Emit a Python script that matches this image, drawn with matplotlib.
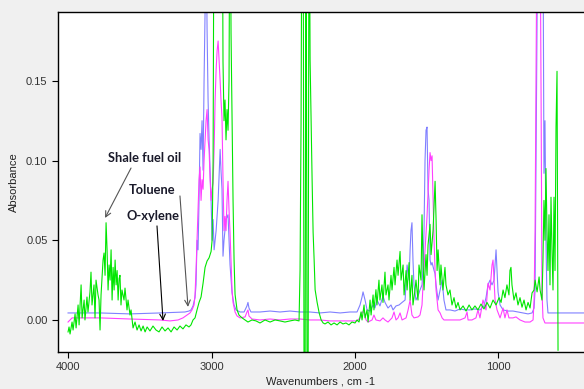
import matplotlib
matplotlib.use("Agg")
import matplotlib.pyplot as plt

# Shale fuel oil (green)
shale_wn = [4000, 3993, 3986, 3972, 3965, 3951, 3944, 3930, 3923, 3909, 3902, 3888, 3882, 3868,
            3861, 3847, 3840, 3833, 3819, 3812, 3805, 3791, 3784, 3777, 3770, 3756, 3749, 3742,
            3735, 3728, 3721, 3714, 3707, 3700, 3693, 3686, 3679, 3672, 3665, 3658, 3651, 3644,
            3638, 3631, 3624, 3610, 3603, 3589, 3582, 3568, 3561, 3547, 3533, 3519, 3505, 3491,
            3477, 3463, 3449, 3429, 3408, 3387, 3366, 3345, 3324, 3303, 3282, 3261, 3240, 3220,
            3199, 3178, 3157, 3143, 3129, 3115, 3101, 3087, 3073, 3059, 3045, 3031, 3017, 3003,
            2996, 2989, 2982, 2926, 2920, 2913, 2906, 2899, 2892, 2885, 2878, 2871, 2864, 2857,
            2850, 2843, 2836, 2822, 2808, 2787, 2766, 2746, 2718, 2690, 2662, 2627, 2592, 2557,
            2523, 2488, 2453, 2418, 2390, 2383, 2376, 2369, 2362, 2355, 2348, 2341, 2334, 2327,
            2320, 2313, 2306, 2299, 2292, 2285, 2278, 2264, 2250, 2236, 2222, 2209, 2188, 2167,
            2146, 2125, 2104, 2084, 2063, 2042, 2021, 2000, 1986, 1972, 1958, 1951, 1937, 1930,
            1916, 1909, 1895, 1888, 1874, 1868, 1854, 1847, 1833, 1826, 1812, 1805, 1791, 1784,
            1770, 1763, 1749, 1742, 1728, 1721, 1707, 1700, 1686, 1679, 1665, 1658, 1644, 1637,
            1623, 1616, 1603, 1596, 1582, 1575, 1561, 1554, 1540, 1533, 1526, 1519, 1505, 1498,
            1491, 1477, 1470, 1456, 1442, 1435, 1428, 1421, 1407, 1401, 1387, 1373, 1366, 1352,
            1338, 1324, 1310, 1296, 1282, 1268, 1247, 1226, 1205, 1185, 1164, 1143, 1122, 1101,
            1080, 1059, 1038, 1017, 996, 982, 968, 955, 941, 927, 920, 913, 906, 892, 878, 864,
            850, 836, 822, 808, 794, 780, 766, 752, 745, 731, 717, 710, 697, 690, 683, 676, 669,
            662, 655, 648, 641, 634, 627, 620, 613, 606, 599, 592, 585]
shale_abs = [-0.0075, -0.0044, -0.0088, -0.0013, -0.0063, 0.0038, -0.005, 0.0094, -0.0031, 0.022,
             0.0013, 0.0125, 0.0, 0.0144, 0.005, 0.0176, 0.030, 0.0094, 0.022, 0.0013, 0.025,
             0.0157, 0.0125, -0.0063, 0.0157, 0.0376, 0.042, 0.028, 0.061, 0.044, 0.0188, 0.0345,
             0.025, 0.044, 0.0125, 0.033, 0.0188, 0.0376, 0.022, 0.031, 0.0125, 0.026, 0.028,
             0.0094, 0.0188, 0.0125, 0.020, 0.0063, 0.0125, 0.0031, 0.0063, -0.005, -0.0013,
             -0.0063, -0.0031, -0.0069, -0.0038, -0.0075, -0.0044, -0.0069, -0.0038, -0.0063,
             -0.0075, -0.0044, -0.0069, -0.005, -0.0075, -0.0044, -0.0063, -0.0038, -0.0056,
             -0.0031, -0.0044, -0.0031, 0.0, 0.0013, 0.0063, 0.011, 0.0144, 0.023, 0.033, 0.037,
             0.039, 0.043, 0.050, 0.10, 0.30, 0.30, 0.162, 0.125, 0.138, 0.113, 0.132, 0.119,
             0.15, 0.30, 0.18, 0.125, 0.075, 0.038, 0.016, 0.0063, 0.003, 0.0013, 0.0, -0.0013,
             0.0, -0.0006, -0.0019, 0.0, -0.0013, 0.0, -0.0006, -0.0013, -0.0006, 0.0, -0.0006,
             0.031, 0.124, 0.30, 0.30, -0.05, -0.05, 0.30, -0.05, -0.05, 0.30, 0.163, 0.125,
             0.088, 0.055, 0.038, 0.019, 0.011, 0.0045, 0.0, -0.0019, -0.0025, -0.0013, -0.0031,
             -0.0019, -0.0031, -0.0013, -0.0025, -0.0019, -0.0031, -0.0013, -0.0019, 0.0,
             -0.0013, 0.005, 0.0, 0.0094, 0.0013, 0.0063, -0.0013, 0.0125, 0.0031, 0.0157,
             0.0063, 0.019, 0.0094, 0.025, 0.0125, 0.022, 0.011, 0.030, 0.0157, 0.022, 0.0125,
             0.028, 0.0188, 0.033, 0.022, 0.0376, 0.028, 0.043, 0.025, 0.0345, 0.0157, 0.031,
             0.0188, 0.036, 0.0125, 0.028, 0.0094, 0.0188, 0.025, 0.0125, 0.0345, 0.025, 0.066,
             0.0376, 0.0188, 0.041, 0.028, 0.047, 0.060, 0.041, 0.056, 0.087, 0.063, 0.031,
             0.044, 0.022, 0.0345, 0.0188, 0.033, 0.022, 0.0157, 0.0188, 0.0094, 0.014, 0.0075,
             0.011, 0.0063, 0.0088, 0.0056, 0.0094, 0.0063, 0.0088, 0.0063, 0.010, 0.0069,
             0.011, 0.0075, 0.0125, 0.0094, 0.014, 0.011, 0.0188, 0.014, 0.022, 0.0157, 0.031,
             0.033, 0.022, 0.0125, 0.017, 0.0094, 0.014, 0.008, 0.0125, 0.0063, 0.011, 0.0075,
             0.017, 0.0188, 0.025, 0.0176, 0.027, 0.0188, 0.0125, 0.0376, 0.075, 0.050, 0.095,
             0.056, 0.031, 0.066, 0.022, 0.077, 0.044, 0.0188, 0.077, 0.031, 0.121, 0.156, -0.019]

# Toluene (blue)
toluene_wn = [4000, 3777, 3568, 3359, 3185, 3157, 3143, 3129, 3115, 3108, 3101, 3094, 3087, 3080,
              3073, 3066, 3059, 3052, 3045, 3038, 3031, 3024, 3017, 3010, 3003, 2996, 2989, 2982,
              2968, 2954, 2940, 2934, 2927, 2920, 2913, 2899, 2885, 2878, 2871, 2857, 2843, 2829,
              2801, 2773, 2753, 2746, 2739, 2725, 2662, 2592, 2523, 2453, 2383, 2314, 2244, 2174,
              2104, 2035, 1986, 1965, 1951, 1944, 1930, 1916, 1895, 1874, 1861, 1847, 1826, 1805,
              1791, 1770, 1749, 1735, 1714, 1693, 1672, 1651, 1637, 1623, 1616, 1610, 1603, 1596,
              1589, 1575, 1561, 1547, 1533, 1526, 1519, 1512, 1505, 1498, 1491, 1484, 1477, 1470,
              1463, 1449, 1442, 1435, 1421, 1407, 1393, 1380, 1366, 1338, 1303, 1268, 1233, 1199,
              1164, 1129, 1101, 1087, 1073, 1059, 1045, 1031, 1017, 1010, 1003, 989, 968, 934,
              899, 864, 829, 794, 766, 752, 745, 738, 731, 724, 690, 683, 676, 669, 662, 655, 571,
              404]
toluene_abs = [0.0044, 0.0044, 0.0038, 0.0044, 0.005, 0.0056, 0.0063, 0.0088, 0.014, 0.022, 0.05,
               0.044, 0.075, 0.117, 0.107, 0.125, 0.094, 0.15, 0.19, 0.25, 0.182, 0.138, 0.113,
               0.094, 0.075, 0.05, 0.063, 0.044, 0.056, 0.075, 0.107, 0.094, 0.082, 0.04, 0.05,
               0.063, 0.066, 0.05, 0.0345, 0.017, 0.0094, 0.0063, 0.005, 0.005, 0.0088, 0.011,
               0.0075, 0.005, 0.005, 0.0056, 0.005, 0.0056, 0.005, 0.005, 0.0044, 0.005, 0.0044,
               0.005, 0.005, 0.0094, 0.0144, 0.0176, 0.0125, 0.0063, 0.0056, 0.0094, 0.0075,
               0.0125, 0.0088, 0.015, 0.011, 0.0075, 0.0094, 0.0063, 0.0088, 0.0094, 0.011,
               0.0125, 0.0345, 0.025, 0.044, 0.056, 0.061, 0.0376, 0.022, 0.0125, 0.015, 0.0188,
               0.022, 0.033, 0.056, 0.10, 0.119, 0.121, 0.082, 0.075, 0.0376, 0.0345, 0.036,
               0.031, 0.029, 0.022, 0.0125, 0.0188, 0.025, 0.0125, 0.0063, 0.0063, 0.0056,
               0.0069, 0.0063, 0.0063, 0.0069, 0.0063, 0.0088, 0.014, 0.022, 0.025, 0.022, 0.025,
               0.044, 0.031, 0.0176, 0.0094, 0.0063, 0.0056, 0.0056, 0.005, 0.0044, 0.0038,
               0.0044, 0.0075, 0.019, 0.107, 0.19, 0.25, 0.25, 0.092, 0.125, 0.05, 0.0125, 0.0044,
               0.0044, 0.0044]

# O-xylene (magenta)
oxylene_wn = [4000, 3972, 3777, 3568, 3359, 3289, 3233, 3199, 3171, 3150, 3136, 3122, 3115, 3108,
              3101, 3094, 3087, 3080, 3073, 3066, 3059, 3052, 3045, 3038, 3031, 3024, 3017, 3010,
              3003, 2996, 2989, 2982, 2975, 2968, 2961, 2954, 2947, 2940, 2934, 2927, 2920, 2913,
              2906, 2899, 2892, 2885, 2878, 2871, 2864, 2857, 2850, 2836, 2822, 2801, 2766, 2753,
              2746, 2739, 2718, 2662, 2592, 2523, 2453, 2383, 2314, 2244, 2174, 2104, 2035, 1986,
              1965, 1951, 1937, 1923, 1909, 1881, 1868, 1854, 1826, 1805, 1791, 1770, 1742, 1728,
              1714, 1700, 1686, 1672, 1644, 1630, 1616, 1603, 1589, 1561, 1547, 1533, 1526, 1512,
              1498, 1484, 1477, 1470, 1463, 1456, 1449, 1442, 1435, 1428, 1421, 1407, 1393, 1380,
              1338, 1268, 1233, 1219, 1212, 1185, 1157, 1143, 1129, 1108, 1087, 1073, 1059, 1045,
              1038, 1031, 1024, 1010, 989, 968, 955, 941, 927, 899, 878, 850, 815, 780, 759, 752,
              745, 738, 731, 710, 703, 697, 690, 676, 571, 404]
oxylene_abs = [-0.0013, 0.0013, 0.0013, 0.0006, 0.0, -0.0006, 0.0, 0.0013, 0.0031, 0.0044,
               0.0063, 0.0094, 0.0157, 0.031, 0.05, 0.069, 0.088, 0.096, 0.075, 0.088, 0.082,
               0.10, 0.113, 0.125, 0.132, 0.113, 0.107, 0.088, 0.075, 0.082, 0.086, 0.107, 0.138,
               0.157, 0.169, 0.175, 0.163, 0.15, 0.138, 0.127, 0.088, 0.056, 0.065, 0.056, 0.075,
               0.087, 0.069, 0.055, 0.0376, 0.0188, 0.011, 0.005, 0.0025, 0.0013, 0.0019, 0.005,
               0.0063, 0.0025, 0.0006, 0.0, 0.0006, 0.0, 0.0006, 0.0006, 0.0, 0.0, -0.0006,
               -0.0006, -0.0006, -0.0006, 0.0013, 0.005, 0.005, 0.0, -0.0013, 0.0, 0.0031, 0.0,
               -0.0006, 0.0013, 0.0, -0.0013, 0.0013, 0.005, 0.0, 0.0013, 0.0044, 0.0, 0.0013,
               0.0063, 0.0125, 0.0031, 0.0013, 0.0019, 0.0031, 0.0094, 0.022, 0.044, 0.065, 0.094,
               0.105, 0.10, 0.103, 0.075, 0.05, 0.031, 0.0188, 0.0125, 0.0063, 0.0044, 0.0013,
               0.0, 0.0, 0.0, 0.0013, 0.005, 0.0, 0.0, 0.0013, 0.0063, 0.0013, 0.0125, 0.0063,
               0.023, 0.0188, 0.0345, 0.0376, 0.025, 0.0125, 0.0063, 0.0013, 0.0075, 0.0013,
               0.0063, 0.0013, 0.0013, 0.0019, 0.0, -0.0013, -0.0013, 0.0, 0.0125, 0.056, 0.163,
               0.25, 0.25, 0.138, 0.019, 0.0013, -0.0019, -0.0019, -0.0019]

x_ticks = [4000, 3000, 2000, 1000]
y_ticks = [0.00, 0.05, 0.10, 0.15]

fig = plt.figure(figsize=(5.84, 3.89), dpi=100, facecolor="#f0f0f0")
ax = fig.add_axes([58 / 584, 37 / 389, 526 / 584, 340 / 389])
ax.set_facecolor("white")

ax.plot(toluene_wn, toluene_abs, color="#8080ff", lw=0.8)
ax.plot(oxylene_wn, oxylene_abs, color="#ff40ff", lw=0.8)
ax.plot(shale_wn, shale_abs, color="#00e600", lw=0.8)

ax.set_xlim(4070, 404)
ax.set_ylim(-0.0201, 0.1932)
ax.set_xticks(x_ticks)
ax.set_yticks(y_ticks)
ax.set_yticklabels([f"{v:.2f}" for v in y_ticks])
ax.tick_params(direction="out", length=4, width=0.8, labelsize=8, colors="black",
               labelcolor="#333333")
for lab in ax.get_xticklabels() + ax.get_yticklabels():
    lab.set_fontfamily("Liberation Sans")
ax.spines["right"].set_visible(False)
for s in ["left", "top", "bottom"]:
    ax.spines[s].set_linewidth(1.0)

ax.set_xlabel("Wavenumbers , cm -1", fontsize=8, family="Liberation Sans", labelpad=3,
              color="#222222")
ax.set_ylabel("Absorbance", fontsize=8, family="Liberation Sans", labelpad=5,
              color="#222222")

# annotations
tfont = dict(fontsize=9.3, fontweight="bold", family="Lato", color="#1a1a2a",
             ha="center", va="center")
ax.text(3463, 0.1016, "Shale fuel oil", **tfont)
ax.text(3415, 0.0815, "Toluene", **tfont)
ax.text(3408, 0.065, "O-xylene", **tfont)
ax.annotate("", xy=(3742, 0.064), xytext=(3561, 0.0953),
            arrowprops=dict(arrowstyle="->", color="#555555", lw=0.8, shrinkA=0, shrinkB=0))
ax.annotate("", xy=(3164, 0.0082), xytext=(3220, 0.0778),
            arrowprops=dict(arrowstyle="->", color="#555555", lw=0.8, shrinkA=0, shrinkB=0))
ax.annotate("", xy=(3338, -0.0006), xytext=(3380, 0.059),
            arrowprops=dict(arrowstyle="->", color="black", lw=0.8, shrinkA=0, shrinkB=0))

fig.savefig("out.png", dpi=100, facecolor=fig.get_facecolor())
